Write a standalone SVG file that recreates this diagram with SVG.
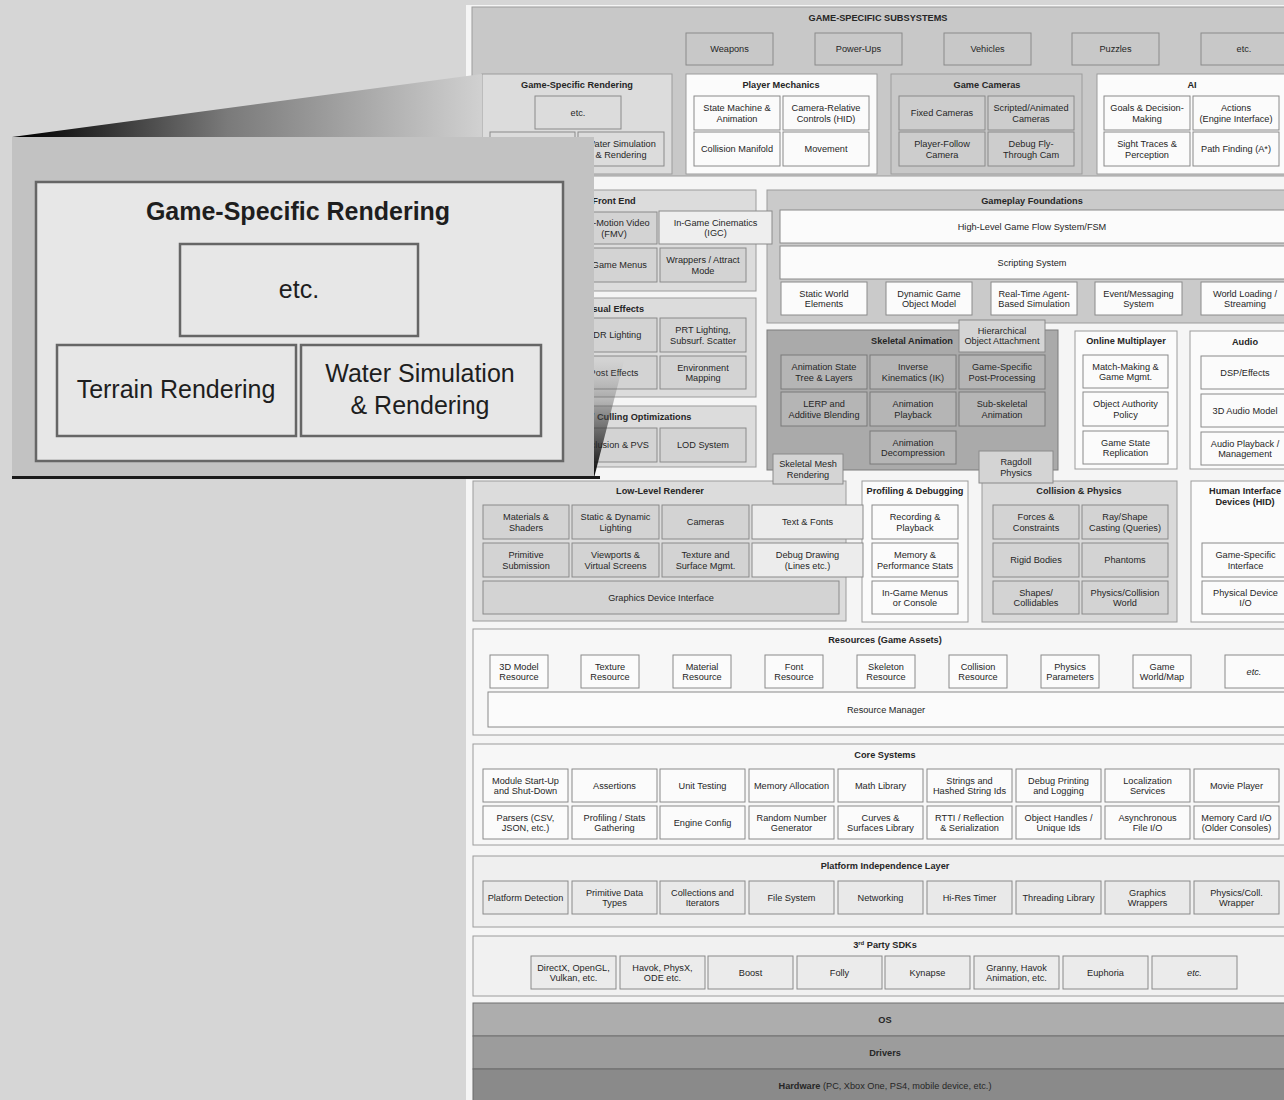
<svg xmlns="http://www.w3.org/2000/svg" width="1284" height="1100" viewBox="0 0 1284 1100">
<style>
text{font-family:"Liberation Sans",Arial,sans-serif;font-size:9.2px;fill:#262626;text-anchor:middle}
.h{font-weight:bold}
.i{font-style:italic}
.c{stroke:#9c9c9c;stroke-width:1}
.bx{stroke:#8a8a8a;stroke-width:1}
.w{fill:#fbfbfb}
.g1{fill:#c8c8c8}
.g2{fill:#dcdcdc}
.g3{fill:#d3d3d3}
.g4{fill:#ececec}
.sk{fill:#aaaaaa;stroke:#7c7c7c}
.skb{fill:#b5b5b5;stroke:#7a7a7a;stroke-width:1}
.pt{font-size:25px;fill:#1e1e1e}
.pb{fill:#e7e7e7;stroke:#666;stroke-width:2.5}
</style>
<defs>
<linearGradient id="wedgeTop" gradientUnits="userSpaceOnUse" x1="20" y1="0" x2="480" y2="0">
<stop offset="0" stop-color="#000"/>
<stop offset="0.45" stop-color="#7a7a7a"/>
<stop offset="1" stop-color="#d0d0d0"/>
</linearGradient>
<linearGradient id="wedgeSide" gradientUnits="userSpaceOnUse" x1="0" y1="478" x2="0" y2="360">
<stop offset="0" stop-color="#000" stop-opacity="1"/>
<stop offset="0.5" stop-color="#444" stop-opacity="0.6"/>
<stop offset="1" stop-color="#888" stop-opacity="0"/>
</linearGradient>
</defs>
<rect x="0" y="0" width="1284" height="1100" fill="#d6d6d6"/>
<rect x="466" y="5" width="818" height="1095" fill="#f5f5f5"/>

<g id="connectors"/>

<!-- GAME-SPECIFIC SUBSYSTEMS -->
<g id="game-specific-subsystems">
<rect class="c g1" x="472" y="7" width="820" height="169"/>
<text class="h" x="878" y="21">GAME-SPECIFIC SUBSYSTEMS</text>
</g>
<g id="weapons"><rect class="bx g1" x="686" y="33" width="87" height="32"/><text x="729.5" y="52.3">Weapons</text></g>
<g id="power-ups"><rect class="bx g1" x="815" y="33" width="87" height="32"/><text x="858.5" y="52.3">Power-Ups</text></g>
<g id="vehicles"><rect class="bx g1" x="944" y="33" width="87" height="32"/><text x="987.5" y="52.3">Vehicles</text></g>
<g id="puzzles"><rect class="bx g1" x="1072" y="33" width="87" height="32"/><text x="1115.5" y="52.3">Puzzles</text></g>
<g id="gss-etc"><rect class="bx g1" x="1201" y="33" width="90" height="32"/><text x="1244" y="52.3">etc.</text></g>

<g id="game-specific-rendering">
<rect class="c g2" x="482" y="74" width="190" height="100"/>
<text class="h" x="577" y="88.3">Game-Specific Rendering</text>
<g id="gsr-etc"><rect class="bx g2" x="535" y="96" width="86" height="33"/><text x="578" y="115.8">etc.</text></g>
<g id="terrain-rendering"><rect class="bx g2" x="490" y="132" width="85" height="34"/><text x="532.5" y="152.3">Terrain Rendering</text></g>
<g id="water-simulation"><rect class="bx g2" x="578" y="132" width="86" height="34"/><text x="621" y="147">Water Simulation</text><text x="621" y="157.5">&amp; Rendering</text></g>
</g>

<g id="player-mechanics">
<rect class="c w" x="686" y="74" width="191" height="100"/>
<text class="h" x="781" y="88.3">Player Mechanics</text>
<g id="state-machine"><rect class="bx w" x="694" y="96" width="86" height="34"/><text x="737" y="111">State Machine &amp;</text><text x="737" y="121.5">Animation</text></g>
<g id="camera-relative"><rect class="bx w" x="783" y="96" width="86" height="34"/><text x="826" y="111">Camera-Relative</text><text x="826" y="121.5">Controls (HID)</text></g>
<g id="collision-manifold"><rect class="bx w" x="694" y="132" width="86" height="34"/><text x="737" y="152.3">Collision Manifold</text></g>
<g id="movement"><rect class="bx w" x="783" y="132" width="86" height="34"/><text x="826" y="152.3">Movement</text></g>
</g>

<g id="game-cameras">
<rect class="c g1" x="891" y="74" width="191" height="100"/>
<text class="h" x="987" y="88.3">Game Cameras</text>
<g id="fixed-cameras"><rect class="bx" fill="#cdcdcd" x="899" y="96" width="86" height="34"/><text x="942" y="116.3">Fixed Cameras</text></g>
<g id="scripted-cameras"><rect class="bx" fill="#cdcdcd" x="988" y="96" width="86" height="34"/><text x="1031" y="111">Scripted/Animated</text><text x="1031" y="121.5">Cameras</text></g>
<g id="player-follow"><rect class="bx" fill="#cdcdcd" x="899" y="132" width="86" height="34"/><text x="942" y="147">Player-Follow</text><text x="942" y="157.5">Camera</text></g>
<g id="debug-fly"><rect class="bx" fill="#cdcdcd" x="988" y="132" width="86" height="34"/><text x="1031" y="147">Debug Fly-</text><text x="1031" y="157.5">Through Cam</text></g>
</g>

<g id="ai">
<rect class="c w" x="1097" y="74" width="195" height="100"/>
<text class="h" x="1192" y="88.3">AI</text>
<g id="goals"><rect class="bx w" x="1104" y="96" width="86" height="34"/><text x="1147" y="111">Goals &amp; Decision-</text><text x="1147" y="121.5">Making</text></g>
<g id="actions"><rect class="bx w" x="1193" y="96" width="86" height="34"/><text x="1236" y="111">Actions</text><text x="1236" y="121.5">(Engine Interface)</text></g>
<g id="sight-traces"><rect class="bx w" x="1104" y="132" width="86" height="34"/><text x="1147" y="147">Sight Traces &amp;</text><text x="1147" y="157.5">Perception</text></g>
<g id="path-finding"><rect class="bx w" x="1193" y="132" width="86" height="34"/><text x="1236" y="152.3">Path Finding (A*)</text></g>
</g>

<!-- Front End -->
<g id="front-end">
<rect class="c g2" x="473" y="190" width="283" height="101"/>
<text class="h" x="614" y="204">Front End</text>
<g id="fmv"><rect class="bx g3" x="571" y="212" width="86" height="32"/><text x="614" y="226">Full-Motion Video</text><text x="614" y="236.5">(FMV)</text></g>
<g id="game-menus"><rect class="bx g3" x="571" y="248" width="86" height="34"/><text x="614" y="268.3">In-Game Menus</text></g>
<g id="wrappers"><rect class="bx g3" x="660" y="248" width="86" height="34"/><text x="703" y="263">Wrappers / Attract</text><text x="703" y="273.5">Mode</text></g>
</g>
<g id="visual-effects">
<rect class="c g2" x="473" y="298" width="283" height="99"/>
<text class="h" x="614" y="312">Visual Effects</text>
<g id="hdr"><rect class="bx g3" x="571" y="318" width="86" height="34"/><text x="614" y="338.3">HDR Lighting</text></g>
<g id="prt"><rect class="bx g3" x="660" y="318" width="86" height="34"/><text x="703" y="333">PRT Lighting,</text><text x="703" y="343.5">Subsurf. Scatter</text></g>
<g id="post-effects"><rect class="bx g3" x="571" y="356" width="86" height="33"/><text x="614" y="375.8">Post Effects</text></g>
<g id="env-mapping"><rect class="bx g3" x="660" y="356" width="86" height="33"/><text x="703" y="370.5">Environment</text><text x="703" y="381">Mapping</text></g>
</g>
<g id="scene-graph">
<rect class="c g2" x="473" y="406" width="283" height="61"/>
<text class="h" x="612" y="420">Scene Graph / Culling Optimizations</text>
<g id="occlusion"><rect class="bx g3" x="571" y="428" width="86" height="34"/><text x="614" y="448.3">Occlusion &amp; PVS</text></g>
<g id="lod"><rect class="bx g3" x="660" y="428" width="86" height="34"/><text x="703" y="448.3">LOD System</text></g>
</g>

<!-- Gameplay Foundations -->
<g id="gameplay-foundations">
<rect class="c" fill="#cacaca" x="767" y="190" width="525" height="133"/>
<text class="h" x="1032" y="204">Gameplay Foundations</text>
<g id="game-flow"><rect class="bx w" x="780" y="210" width="512" height="33"/><text x="1032" y="230">High-Level Game Flow System/FSM</text></g>
<g id="scripting"><rect class="bx w" x="780" y="246" width="512" height="33"/><text x="1032" y="266">Scripting System</text></g>
<g id="static-world"><rect class="bx w" x="781" y="282" width="86" height="33"/><text x="824" y="296.5">Static World</text><text x="824" y="307">Elements</text></g>
<g id="dynamic-object"><rect class="bx w" x="886" y="282" width="86" height="33"/><text x="929" y="296.5">Dynamic Game</text><text x="929" y="307">Object Model</text></g>
<g id="real-time-agent"><rect class="bx w" x="991" y="282" width="86" height="33"/><text x="1034" y="296.5">Real-Time Agent-</text><text x="1034" y="307">Based Simulation</text></g>
<g id="event-messaging"><rect class="bx w" x="1095" y="282" width="87" height="33"/><text x="1138.5" y="296.5">Event/Messaging</text><text x="1138.5" y="307">System</text></g>
<g id="world-loading"><rect class="bx w" x="1201" y="282" width="90" height="33"/><text x="1245" y="296.5">World Loading /</text><text x="1245" y="307">Streaming</text></g>
</g>
<g id="igc"><rect class="bx" fill="#eeeeee" x="659" y="211" width="113" height="33"/><text x="715.5" y="225.5">In-Game Cinematics</text><text x="715.5" y="236">(IGC)</text></g>

<!-- Skeletal Animation -->
<g id="skeletal-animation">
<rect class="sk" x="767" y="330" width="291" height="140"/>
<text class="h" x="912" y="344">Skeletal Animation</text>
<g id="anim-state-tree"><rect class="skb" x="781" y="355" width="86" height="34"/><text x="824" y="370">Animation State</text><text x="824" y="380.5">Tree &amp; Layers</text></g>
<g id="ik"><rect class="skb" x="870" y="355" width="86" height="34"/><text x="913" y="370">Inverse</text><text x="913" y="380.5">Kinematics (IK)</text></g>
<g id="post-processing"><rect class="skb" x="959" y="355" width="86" height="34"/><text x="1002" y="370">Game-Specific</text><text x="1002" y="380.5">Post-Processing</text></g>
<g id="lerp"><rect class="skb" x="781" y="392" width="86" height="34"/><text x="824" y="407">LERP and</text><text x="824" y="417.5">Additive Blending</text></g>
<g id="anim-playback"><rect class="skb" x="870" y="392" width="86" height="34"/><text x="913" y="407">Animation</text><text x="913" y="417.5">Playback</text></g>
<g id="sub-skeletal"><rect class="skb" x="959" y="392" width="86" height="34"/><text x="1002" y="407">Sub-skeletal</text><text x="1002" y="417.5">Animation</text></g>
<g id="anim-decompression"><rect class="skb" x="870" y="431" width="86" height="33"/><text x="913" y="445.5">Animation</text><text x="913" y="456">Decompression</text></g>
</g>
<g id="hierarchical-attachment"><rect class="bx" fill="#d4d4d4" x="959" y="320" width="86" height="32"/><text x="1002" y="333.5">Hierarchical</text><text x="1002" y="344">Object Attachment</text></g>

<g id="online-multiplayer">
<rect class="c w" x="1075" y="331" width="102" height="138"/>
<text class="h" x="1126" y="344">Online Multiplayer</text>
<g id="match-making"><rect class="bx w" x="1083" y="355" width="85" height="33"/><text x="1125.5" y="369.5">Match-Making &amp;</text><text x="1125.5" y="380">Game Mgmt.</text></g>
<g id="object-authority"><rect class="bx w" x="1083" y="392" width="85" height="34"/><text x="1125.5" y="407">Object Authority</text><text x="1125.5" y="417.5">Policy</text></g>
<g id="game-state-replication"><rect class="bx w" x="1083" y="431" width="85" height="33"/><text x="1125.5" y="445.5">Game State</text><text x="1125.5" y="456">Replication</text></g>
</g>

<g id="audio">
<rect class="c w" x="1190" y="331" width="102" height="138"/>
<text class="h" x="1245" y="345">Audio</text>
<g id="dsp"><rect class="bx w" x="1201" y="356" width="88" height="33"/><text x="1245" y="375.8">DSP/Effects</text></g>
<g id="audio-model"><rect class="bx w" x="1201" y="394" width="88" height="33"/><text x="1245" y="413.8">3D Audio Model</text></g>
<g id="audio-playback"><rect class="bx w" x="1201" y="432" width="88" height="33"/><text x="1245" y="446.5">Audio Playback /</text><text x="1245" y="457">Management</text></g>
</g>

<!-- Low-Level Renderer -->
<g id="low-level-renderer">
<rect class="c g2" x="473" y="481" width="373" height="140"/>
<text class="h" x="660" y="494">Low-Level Renderer</text>
<g id="materials"><rect class="bx g3" x="483" y="505" width="86" height="34"/><text x="526" y="520">Materials &amp;</text><text x="526" y="530.5">Shaders</text></g>
<g id="lighting"><rect class="bx g3" x="572" y="505" width="87" height="34"/><text x="615.5" y="520">Static &amp; Dynamic</text><text x="615.5" y="530.5">Lighting</text></g>
<g id="cameras"><rect class="bx g3" x="662" y="505" width="87" height="34"/><text x="705.5" y="525.3">Cameras</text></g>
<g id="primitive-submission"><rect class="bx g3" x="483" y="543" width="86" height="34"/><text x="526" y="558">Primitive</text><text x="526" y="568.5">Submission</text></g>
<g id="viewports"><rect class="bx g3" x="572" y="543" width="87" height="34"/><text x="615.5" y="558">Viewports &amp;</text><text x="615.5" y="568.5">Virtual Screens</text></g>
<g id="texture-surface"><rect class="bx g3" x="662" y="543" width="87" height="34"/><text x="705.5" y="558">Texture and</text><text x="705.5" y="568.5">Surface Mgmt.</text></g>
<g id="gdi"><rect class="bx g3" x="483" y="581" width="356" height="33"/><text x="661" y="600.8">Graphics Device Interface</text></g>
</g>

<g id="profiling">
<rect class="c w" x="862" y="481" width="106" height="141"/>
<text class="h" x="915" y="494">Profiling &amp; Debugging</text>
<g id="recording"><rect class="bx w" x="872" y="505" width="86" height="34"/><text x="915" y="520">Recording &amp;</text><text x="915" y="530.5">Playback</text></g>
<g id="memory-stats"><rect class="bx w" x="872" y="543" width="86" height="34"/><text x="915" y="558">Memory &amp;</text><text x="915" y="568.5">Performance Stats</text></g>
<g id="in-game-menus"><rect class="bx w" x="872" y="581" width="86" height="33"/><text x="915" y="595.5">In-Game Menus</text><text x="915" y="606">or Console</text></g>
</g>
<g id="text-fonts"><rect class="bx g4" x="752" y="505" width="111" height="34"/><text x="807.5" y="525.3">Text &amp; Fonts</text></g>
<g id="debug-drawing"><rect class="bx g4" x="752" y="543" width="111" height="34"/><text x="807.5" y="558">Debug Drawing</text><text x="807.5" y="568.5">(Lines etc.)</text></g>

<g id="collision-physics">
<rect class="c" fill="#d9d9d9" x="982" y="481" width="195" height="141"/>
<text class="h" x="1079" y="494">Collision &amp; Physics</text>
<g id="forces"><rect class="bx g3" x="993" y="505" width="86" height="34"/><text x="1036" y="520">Forces &amp;</text><text x="1036" y="530.5">Constraints</text></g>
<g id="ray-casting"><rect class="bx g3" x="1082" y="505" width="86" height="34"/><text x="1125" y="520">Ray/Shape</text><text x="1125" y="530.5">Casting (Queries)</text></g>
<g id="rigid-bodies"><rect class="bx g3" x="993" y="543" width="86" height="34"/><text x="1036" y="563.3">Rigid Bodies</text></g>
<g id="phantoms"><rect class="bx g3" x="1082" y="543" width="86" height="34"/><text x="1125" y="563.3">Phantoms</text></g>
<g id="shapes"><rect class="bx g3" x="993" y="581" width="86" height="33"/><text x="1036" y="595.5">Shapes/</text><text x="1036" y="606">Collidables</text></g>
<g id="physics-world"><rect class="bx g3" x="1082" y="581" width="86" height="33"/><text x="1125" y="595.5">Physics/Collision</text><text x="1125" y="606">World</text></g>
</g>

<g id="hid">
<rect class="c w" x="1191" y="481" width="101" height="141"/>
<text class="h" x="1245" y="494">Human Interface</text>
<text class="h" x="1245" y="505">Devices (HID)</text>
<g id="game-specific-interface"><rect class="bx w" x="1202" y="543" width="87" height="34"/><text x="1245.5" y="558">Game-Specific</text><text x="1245.5" y="568.5">Interface</text></g>
<g id="physical-device"><rect class="bx w" x="1202" y="581" width="87" height="33"/><text x="1245.5" y="595.5">Physical Device</text><text x="1245.5" y="606">I/O</text></g>
</g>

<g id="skeletal-mesh-rendering"><rect class="bx" fill="#d4d4d4" x="773" y="454" width="70" height="30"/><text x="808" y="467">Skeletal Mesh</text><text x="808" y="477.5">Rendering</text></g>
<g id="ragdoll"><rect class="bx" fill="#d4d4d4" x="979" y="451" width="74" height="32"/><text x="1016" y="465">Ragdoll</text><text x="1016" y="475.5">Physics</text></g>

<!-- Resources -->
<g id="resources">
<rect class="c" fill="#f7f7f7" x="473" y="629" width="819" height="106"/>
<text class="h" x="885" y="643">Resources (Game Assets)</text>
<g id="res-3d"><rect class="bx w" x="490" y="655" width="58" height="33"/><text x="519" y="669.5">3D Model</text><text x="519" y="680">Resource</text></g>
<g id="res-texture"><rect class="bx w" x="581" y="655" width="58" height="33"/><text x="610" y="669.5">Texture</text><text x="610" y="680">Resource</text></g>
<g id="res-material"><rect class="bx w" x="673" y="655" width="58" height="33"/><text x="702" y="669.5">Material</text><text x="702" y="680">Resource</text></g>
<g id="res-font"><rect class="bx w" x="765" y="655" width="58" height="33"/><text x="794" y="669.5">Font</text><text x="794" y="680">Resource</text></g>
<g id="res-skeleton"><rect class="bx w" x="857" y="655" width="58" height="33"/><text x="886" y="669.5">Skeleton</text><text x="886" y="680">Resource</text></g>
<g id="res-collision"><rect class="bx w" x="949" y="655" width="58" height="33"/><text x="978" y="669.5">Collision</text><text x="978" y="680">Resource</text></g>
<g id="res-physics"><rect class="bx w" x="1041" y="655" width="58" height="33"/><text x="1070" y="669.5">Physics</text><text x="1070" y="680">Parameters</text></g>
<g id="res-world"><rect class="bx w" x="1133" y="655" width="58" height="33"/><text x="1162" y="669.5">Game</text><text x="1162" y="680">World/Map</text></g>
<g id="res-etc"><rect class="bx w" x="1225" y="655" width="66" height="33"/><text class="i" x="1254" y="674.8">etc.</text></g>
<g id="resource-manager"><rect class="bx w" x="488" y="692" width="804" height="35"/><text x="886" y="713">Resource Manager</text></g>
</g>

<!-- Core Systems -->
<g id="core-systems">
<rect class="c" fill="#f7f7f7" x="473" y="744" width="819" height="101"/>
<text class="h" x="885" y="758">Core Systems</text>
<g id="module-startup"><rect class="bx w" x="483" y="769" width="85" height="33"/><text x="525.5" y="783.5">Module Start-Up</text><text x="525.5" y="794">and Shut-Down</text></g>
<g id="assertions"><rect class="bx w" x="572" y="769" width="85" height="33"/><text x="614.5" y="788.8">Assertions</text></g>
<g id="unit-testing"><rect class="bx w" x="660" y="769" width="85" height="33"/><text x="702.5" y="788.8">Unit Testing</text></g>
<g id="memory-allocation"><rect class="bx w" x="749" y="769" width="85" height="33"/><text x="791.5" y="788.8">Memory Allocation</text></g>
<g id="math-library"><rect class="bx w" x="838" y="769" width="85" height="33"/><text x="880.5" y="788.8">Math Library</text></g>
<g id="strings"><rect class="bx w" x="927" y="769" width="85" height="33"/><text x="969.5" y="783.5">Strings and</text><text x="969.5" y="794">Hashed String Ids</text></g>
<g id="debug-printing"><rect class="bx w" x="1016" y="769" width="85" height="33"/><text x="1058.5" y="783.5">Debug Printing</text><text x="1058.5" y="794">and Logging</text></g>
<g id="localization"><rect class="bx w" x="1105" y="769" width="85" height="33"/><text x="1147.5" y="783.5">Localization</text><text x="1147.5" y="794">Services</text></g>
<g id="movie-player"><rect class="bx w" x="1194" y="769" width="85" height="33"/><text x="1236.5" y="788.8">Movie Player</text></g>
<g id="parsers"><rect class="bx w" x="483" y="806" width="85" height="33"/><text x="525.5" y="820.5">Parsers (CSV,</text><text x="525.5" y="831">JSON, etc.)</text></g>
<g id="profiling-stats"><rect class="bx w" x="572" y="806" width="85" height="33"/><text x="614.5" y="820.5">Profiling / Stats</text><text x="614.5" y="831">Gathering</text></g>
<g id="engine-config"><rect class="bx w" x="660" y="806" width="85" height="33"/><text x="702.5" y="825.8">Engine Config</text></g>
<g id="rng"><rect class="bx w" x="749" y="806" width="85" height="33"/><text x="791.5" y="820.5">Random Number</text><text x="791.5" y="831">Generator</text></g>
<g id="curves"><rect class="bx w" x="838" y="806" width="85" height="33"/><text x="880.5" y="820.5">Curves &amp;</text><text x="880.5" y="831">Surfaces Library</text></g>
<g id="rtti"><rect class="bx w" x="927" y="806" width="85" height="33"/><text x="969.5" y="820.5">RTTI / Reflection</text><text x="969.5" y="831">&amp; Serialization</text></g>
<g id="object-handles"><rect class="bx w" x="1016" y="806" width="85" height="33"/><text x="1058.5" y="820.5">Object Handles /</text><text x="1058.5" y="831">Unique Ids</text></g>
<g id="async-io"><rect class="bx w" x="1105" y="806" width="85" height="33"/><text x="1147.5" y="820.5">Asynchronous</text><text x="1147.5" y="831">File I/O</text></g>
<g id="memory-card"><rect class="bx w" x="1194" y="806" width="85" height="33"/><text x="1236.5" y="820.5">Memory Card I/O</text><text x="1236.5" y="831">(Older Consoles)</text></g>
</g>

<!-- Platform Independence Layer -->
<g id="platform-independence">
<rect class="c" fill="#efefef" x="473" y="856" width="819" height="71"/>
<text class="h" x="885" y="869">Platform Independence Layer</text>
<g id="platform-detection"><rect class="bx" fill="#e9e9e9" x="483" y="881" width="85" height="33"/><text x="525.5" y="900.8">Platform Detection</text></g>
<g id="primitive-types"><rect class="bx" fill="#e9e9e9" x="572" y="881" width="85" height="33"/><text x="614.5" y="895.5">Primitive Data</text><text x="614.5" y="906">Types</text></g>
<g id="collections"><rect class="bx" fill="#e9e9e9" x="660" y="881" width="85" height="33"/><text x="702.5" y="895.5">Collections and</text><text x="702.5" y="906">Iterators</text></g>
<g id="file-system"><rect class="bx" fill="#e9e9e9" x="749" y="881" width="85" height="33"/><text x="791.5" y="900.8">File System</text></g>
<g id="networking"><rect class="bx" fill="#e9e9e9" x="838" y="881" width="85" height="33"/><text x="880.5" y="900.8">Networking</text></g>
<g id="hi-res-timer"><rect class="bx" fill="#e9e9e9" x="927" y="881" width="85" height="33"/><text x="969.5" y="900.8">Hi-Res Timer</text></g>
<g id="threading"><rect class="bx" fill="#e9e9e9" x="1016" y="881" width="85" height="33"/><text x="1058.5" y="900.8">Threading Library</text></g>
<g id="graphics-wrappers"><rect class="bx" fill="#e9e9e9" x="1105" y="881" width="85" height="33"/><text x="1147.5" y="895.5">Graphics</text><text x="1147.5" y="906">Wrappers</text></g>
<g id="physics-wrapper"><rect class="bx" fill="#e9e9e9" x="1194" y="881" width="85" height="33"/><text x="1236.5" y="895.5">Physics/Coll.</text><text x="1236.5" y="906">Wrapper</text></g>
</g>

<!-- 3rd Party SDKs -->
<g id="third-party-sdks">
<rect class="c" fill="#f1f1f1" x="473" y="936" width="819" height="60"/>
<text class="h" x="885" y="948">3<tspan font-size="6" dy="-3">rd</tspan><tspan dy="3"> Party SDKs</tspan></text>
<g id="directx"><rect class="bx" fill="#ebebeb" x="531" y="956" width="85" height="33"/><text x="573.5" y="970.5">DirectX, OpenGL,</text><text x="573.5" y="981">Vulkan, etc.</text></g>
<g id="havok"><rect class="bx" fill="#ebebeb" x="620" y="956" width="85" height="33"/><text x="662.5" y="970.5">Havok, PhysX,</text><text x="662.5" y="981">ODE etc.</text></g>
<g id="boost"><rect class="bx" fill="#ebebeb" x="708" y="956" width="85" height="33"/><text x="750.5" y="975.8">Boost</text></g>
<g id="folly"><rect class="bx" fill="#ebebeb" x="797" y="956" width="85" height="33"/><text x="839.5" y="975.8">Folly</text></g>
<g id="kynapse"><rect class="bx" fill="#ebebeb" x="885" y="956" width="85" height="33"/><text x="927.5" y="975.8">Kynapse</text></g>
<g id="granny"><rect class="bx" fill="#ebebeb" x="974" y="956" width="85" height="33"/><text x="1016.5" y="970.5">Granny, Havok</text><text x="1016.5" y="981">Animation, etc.</text></g>
<g id="euphoria"><rect class="bx" fill="#ebebeb" x="1063" y="956" width="85" height="33"/><text x="1105.5" y="975.8">Euphoria</text></g>
<g id="sdk-etc"><rect class="bx" fill="#ebebeb" x="1152" y="956" width="85" height="33"/><text class="i" x="1194.5" y="975.8">etc.</text></g>
</g>

<!-- OS / Drivers / Hardware -->
<g id="os"><rect fill="#adadad" stroke="#707070" x="473" y="1003" width="819" height="33"/><text class="h" x="885" y="1023">OS</text></g>
<g id="drivers"><rect fill="#9c9c9c" stroke="#707070" x="473" y="1036" width="819" height="33"/><text class="h" x="885" y="1056">Drivers</text></g>
<g id="hardware"><rect fill="#8a8a8a" stroke="#6a6a6a" x="473" y="1069" width="819" height="35"/><text x="885" y="1089"><tspan font-weight="bold">Hardware</tspan> (PC, Xbox One, PS4, mobile device, etc.)</text></g>

<!-- Zoom call-out overlay -->
<g id="callout-wedges">
<polygon points="12,137 482,74 482,137" fill="url(#wedgeTop)"/>
<polygon points="594,478 594,174 672,174" fill="url(#wedgeSide)"/>
</g>
<g id="callout-panel">
<rect x="12" y="137" width="582" height="341" fill="#c2c2c2"/>
<rect x="12" y="476" width="588" height="3" fill="#1a1a1a"/>
<rect class="pb" x="36" y="182" width="527" height="279"/>
<text class="h pt" x="298" y="220">Game-Specific Rendering</text>
<g id="callout-etc"><rect class="pb" x="180" y="244" width="238" height="92"/><text class="pt" x="299" y="298">etc.</text></g>
<g id="callout-terrain"><rect class="pb" x="57" y="345" width="239" height="91"/><text class="pt" x="176" y="398">Terrain Rendering</text></g>
<g id="callout-water"><rect class="pb" x="301" y="345" width="240" height="91"/><text class="pt" x="420" y="382">Water Simulation</text><text class="pt" x="420" y="414">&amp; Rendering</text></g>
</g>
</svg>
